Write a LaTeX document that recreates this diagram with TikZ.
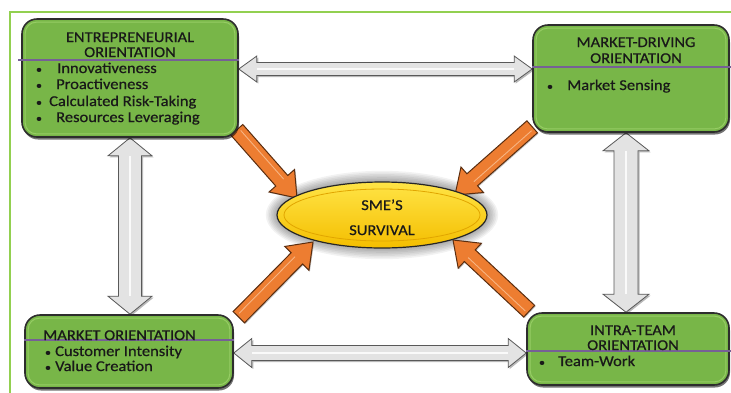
\documentclass[tikz,border=0pt]{standalone}
\usepackage{fontspec}
\setmainfont{Carlito}[FakeStretch=1.1, FakeBold=0.6]
\usetikzlibrary{calc,shadows,shapes.geometric}
\pgfdeclarelayer{background}
\pgfsetlayers{background,main}
\definecolor{boxgreen}{RGB}{120,182,72}
\definecolor{boxedge}{RGB}{45,45,45}
\definecolor{bevelg}{RGB}{150,205,100}
\definecolor{frameg}{RGB}{146,208,80}
\definecolor{purp}{RGB}{118,96,150}
\definecolor{orng}{RGB}{237,125,49}
\definecolor{orngedge}{RGB}{90,45,15}
\definecolor{orngl}{RGB}{246,180,130}
\definecolor{goldtop}{RGB}{255,228,70}
\definecolor{goldbot}{RGB}{244,190,0}
\definecolor{goldline}{RGB}{225,165,0}
\definecolor{txtc}{RGB}{25,25,25}

% single block arrow: #1 start, #2 tip, #3 body half, #4 head half, #5 head length, #6 style
\newcommand\blockarrowone[6]{%
  \coordinate (ba-h) at ($(#2)!#5!(#1)$);
  \filldraw[#6] ($(#1)!#3!90:(#2)$) -- ($(ba-h)!#3!-90:(#1)$) -- ($(ba-h)!#4!-90:(#1)$) -- (#2)
     -- ($(ba-h)!#4!90:(#1)$) -- ($(ba-h)!#3!90:(#1)$) -- ($(#1)!#3!-90:(#2)$) -- cycle;
  \coordinate (ba-s) at ($(#1)!3pt!(#2)$);
  \draw[orngl, line width=0.9pt] ($(ba-s)!2.5pt!90:(#2)$) -- ($(ba-h)!2.5pt!-90:(#1)$);
}
% double block arrow
\newcommand\blockarrowtwo[6]{%
  \coordinate (da-a) at ($(#1)!#5!(#2)$);
  \coordinate (da-b) at ($(#2)!#5!(#1)$);
  \filldraw[#6] (#1) -- ($(da-a)!#4!90:(#2)$) -- ($(da-a)!#3!90:(#2)$) -- ($(da-b)!#3!-90:(#1)$)
     -- ($(da-b)!#4!-90:(#1)$) -- (#2) -- ($(da-b)!#4!90:(#1)$) -- ($(da-b)!#3!90:(#1)$)
     -- ($(da-a)!#3!-90:(#2)$) -- ($(da-a)!#4!-90:(#2)$) -- cycle;
  \draw[white, line width=1.2pt, opacity=0.85] (da-a) -- (da-b);
}

\begin{document}
\begin{tikzpicture}[x=1pt,y=-1pt,
  box/.style={rectangle, rounded corners=15pt, fill=boxgreen, draw=boxedge, line width=1.6pt,
    inner sep=0pt, drop shadow={shadow xshift=1pt, shadow yshift=-2.5pt, fill=black, opacity=0.55}},
  bevel/.style={draw=bevelg, line width=1pt, rounded corners=11pt},
  sepline/.style={draw=purp, line width=1.6pt},
  txt/.style={font=\fontsize{15}{18}\selectfont, text=txtc, inner sep=0pt},
  bul/.style={font=\fontsize{11}{13}\selectfont, text=txtc, inner sep=0pt},
  oarrow/.style={fill=orng, draw=orngedge, line width=1pt, line join=miter,
    drop shadow={shadow xshift=1pt, shadow yshift=-1pt, opacity=0.45}},
  garrow/.style={fill=gray!22, draw=gray!70!black, line width=0.8pt, line join=miter,
    drop shadow={shadow xshift=1.5pt, shadow yshift=-1.5pt, opacity=0.55}}
]
\useasboundingbox (0,0) rectangle (731,392);

% boxes
\node[box, minimum width=216pt, minimum height=118pt] (eo) at (130,78) {};
\node[box, minimum width=196pt, minimum height=107pt] (md) at (631,78.5) {};
\node[box, minimum width=208pt, minimum height=73pt] (mo) at (129,351.5) {};
\node[box, minimum width=202pt, minimum height=72pt] (it) at (628,349) {};
\foreach \b in {eo,md,mo,it}
  \draw[bevel] ([shift={(4,4)}]\b.north west) rectangle ([shift={(-4,-4)}]\b.south east);

% ellipse
\node[ellipse, minimum width=210pt, minimum height=66pt, draw=black!85, line width=1.2pt,
  top color=goldtop, bottom color=goldbot] (sv) at (382,215) {};
\draw[goldline, line width=0.8pt] (sv.center) ellipse (98 and 26);

% separator lines
\coordinate (p1a) at ($(eo.west)+(-3,-18)$);  \coordinate (p1b) at ($(eo.east)+(0,-18)$);
\coordinate (p2a) at ($(md.west)+(0,-11.5)$); \coordinate (p2b) at ($(md.east)+(2,-11.5)$);
\coordinate (p3a) at ($(mo.west)+(0,-11.5)$); \coordinate (p3b) at ($(mo.east)+(0,-11.5)$);
\coordinate (p4a) at ($(it.west)+(0,2)$);     \coordinate (p4b) at ($(it.east)+(2,2)$);
\draw[sepline] (p1a) -- (p1b);
\draw[sepline] (p2a) -- (p2b);
\draw[sepline] (p3a) -- (p3b);
\draw[sepline] (p4a) -- (p4b);

% texts: entrepreneurial orientation
\node[txt, anchor=base] (eo1) at (130,42) {ENTREPRENEURIAL};
\node[txt, anchor=base] (eo2) at (130,57) {ORIENTATION};
\node[bul, anchor=base] (eob1) at (39,73) {•};
\node[bul, anchor=base] (eob2) at (39,89) {•};
\node[bul, anchor=base] (eob3) at (39,106) {•};
\node[bul, anchor=base] (eob4) at (39,122) {•};
\node[txt, anchor=base west] (eoi1) at (57,73) {Innovativeness};
\node[txt, anchor=base west] (eoi2) at (56,89) {Proactiveness};
\node[txt, anchor=base west] (eoi3) at (49,106) {Calculated Risk-Taking};
\node[txt, anchor=base west] (eoi4) at (56,122) {Resources Leveraging};

% market-driving orientation
\node[txt, anchor=base] (md1) at (636,47) {MARKET-DRIVING};
\node[txt, anchor=base] (md2) at (636,63) {ORIENTATION};
\node[bul, anchor=base] (mdb1) at (550,90) {•};
\node[txt, anchor=base west] (mdi1) at (567,90) {Market Sensing};

% market orientation
\node[txt, anchor=base west] (mo1) at (43,340) {MARKET ORIENTATION};
\node[bul, anchor=base] (mob1) at (48,356) {•};
\node[bul, anchor=base] (mob2) at (48,371) {•};
\node[txt, anchor=base west] (moi1) at (55,356) {Customer Intensity};
\node[txt, anchor=base west] (moi2) at (55,371) {Value Creation};

% intra-team orientation
\node[txt, anchor=base] (it1) at (633,335) {INTRA-TEAM};
\node[txt, anchor=base] (it2) at (633,350) {ORIENTATION};
\node[bul, anchor=base] (itb1) at (542,366) {•};
\node[txt, anchor=base west] (iti1) at (558,366) {Team-Work};

% survival
\node[txt, anchor=base] (sv1) at (382,210) {SME’S};
\node[txt, anchor=base] (sv2) at (382,235) {SURVIVAL};

% connector end points
\coordinate (g1s) at ($(eo.east)+(0,-9)$);
\coordinate (g1e) at ($(md.west)+(0,-9.5)$);
\coordinate (g2s) at ($(mo.east)+(0,1.5)$);
\coordinate (g2e) at ($(it.west)+(0,4)$);
\coordinate (g3s) at (eo.south);
\coordinate (g3e) at ($(mo.north)+(1,0)$);
\coordinate (g4s) at ($(md.south)+(-5,0)$);
\coordinate (g4e) at ($(it.north)+(-2,0)$);

\coordinate (o1s) at ($(eo.south east)+(-2,-8)$);
\coordinate (o1e) at ($(sv.center)+(-85,-17)$);
\coordinate (o2s) at ($(md.south west)+(0,-6)$);
\coordinate (o2e) at ($(sv.center)+(73,-20)$);
\coordinate (o3s) at ($(mo.north east)+(5,3)$);
\coordinate (o3e) at ($(sv.center)+(-69,27)$);
\coordinate (o4s) at ($(it.north west)+(3,-1)$);
\coordinate (o4e) at ($(sv.center)+(71,25)$);

\begin{pgfonlayer}{background}
  \fill[white] (0,0) rectangle (731,392);
  \draw[frameg, line width=1.5pt] (10,12) rectangle (745,405);
  \foreach \s in {1,...,7}
    \fill[black, opacity=0.05] (sv.center) ellipse ({105+1.6*\s} and {33+1.6*\s});
  \blockarrowtwo{g1s}{g1e}{6.5pt}{13pt}{18pt}{garrow}
  \blockarrowtwo{g2s}{g2e}{7.5pt}{14.5pt}{18pt}{garrow}
  \blockarrowtwo{g3s}{g3e}{11.5pt}{22pt}{18pt}{garrow}
  \blockarrowtwo{g4s}{g4e}{12pt}{23pt}{18pt}{garrow}
  \blockarrowone{o1s}{o1e}{8pt}{17pt}{23pt}{oarrow}
  \blockarrowone{o2s}{o2e}{8pt}{17pt}{23pt}{oarrow}
  \blockarrowone{o3s}{o3e}{8pt}{17pt}{23pt}{oarrow}
  \blockarrowone{o4s}{o4e}{8pt}{17pt}{23pt}{oarrow}
\end{pgfonlayer}
\end{tikzpicture}
\end{document}
